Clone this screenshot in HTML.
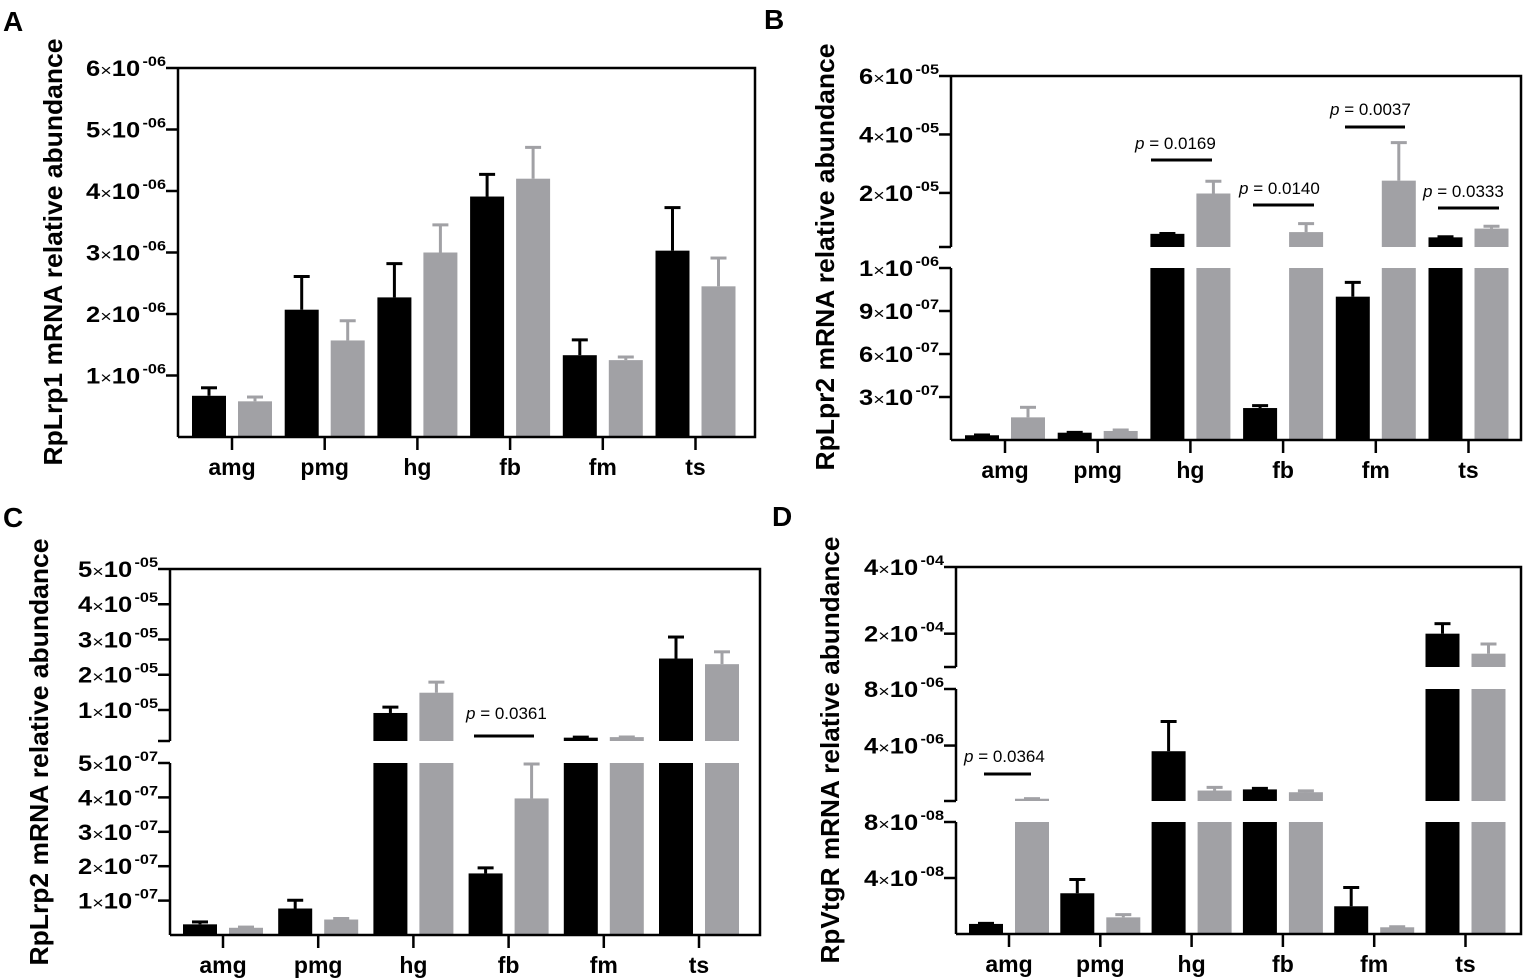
<!DOCTYPE html>
<html><head><meta charset="utf-8"><style>
html,body{margin:0;padding:0;background:#fff;}
svg{display:block;font-family:"Liberation Sans",Arial,sans-serif;}
</style></head><body>
<svg id="fig" width="1524" height="978" viewBox="0 0 1524 978" xmlns="http://www.w3.org/2000/svg"></svg>
<script>
const cats=['amg','pmg','hg','fb','fm','ts'];
// Panel A
const aBlack=[0.67e-6,2.07e-6,2.27e-6,3.91e-6,1.33e-6,3.03e-6];
const aBlackErr=[0.80e-6,2.61e-6,2.82e-6,4.27e-6,1.58e-6,3.73e-6];
const aGray=[0.58e-6,1.57e-6,3.0e-6,4.20e-6,1.25e-6,2.45e-6];
const aGrayErr=[0.65e-6,1.89e-6,3.45e-6,4.71e-6,1.30e-6,2.91e-6];
const aTicks=[1e-6,2e-6,3e-6,4e-6,5e-6,6e-6];
const aTickMant=['1','2','3','4','5','6'];
const aTickExp=['-06','-06','-06','-06','-06','-06'];
// Panel B
const bBlack=[3.3e-8,5.1e-8,6.0e-6,2.23e-7,1.0e-6,4.8e-6];
const bBlackErr=[3.5e-8,5.3e-8,6.1e-6,2.4e-7,1.1e-6,5.0e-6];
const bGray=[1.58e-7,6.3e-8,1.98e-5,6.6e-6,2.42e-5,7.8e-6];
const bGrayErr=[2.28e-7,7.0e-8,2.40e-5,9.5e-6,3.72e-5,8.6e-6];
const bTicks=[3e-7,6e-7,9e-7,1.2e-6,2e-5,4e-5,6e-5];
const bTickMant=['3','6','9','1','2','4','6'];
const bTickExp=['-07','-07','-07','-06','-05','-05','-05'];
// Panel C
const cBlack=[3.1e-8,7.7e-8,9.15e-6,1.79e-7,2.15e-6,2.46e-5];
const cBlackErr=[3.8e-8,1.01e-7,1.08e-5,1.95e-7,2.3e-6,3.07e-5];
const cGray=[2.1e-8,4.5e-8,1.49e-5,3.97e-7,2.3e-6,2.30e-5];
const cGrayErr=[2.3e-8,4.8e-8,1.79e-5,4.97e-7,2.35e-6,2.65e-5];
const cTicks=[1e-7,2e-7,3e-7,4e-7,5e-7,1e-5,2e-5,3e-5,4e-5,5e-5];
const cTickMant=['1','2','3','4','5','1','2','3','4','5'];
const cTickExp=['-07','-07','-07','-07','-07','-05','-05','-05','-05','-05'];
// Panel D
const dBlack=[7.2e-9,2.91e-8,3.6e-6,9.0e-7,1.98e-8,2.0e-4];
const dBlackErr=[7.6e-9,3.89e-8,5.7e-6,9.7e-7,3.32e-8,2.3e-4];
const dGray=[2.4e-7,1.19e-8,8.2e-7,7.0e-7,4.8e-9,1.40e-4];
const dGrayErr=[2.45e-7,1.38e-8,1.04e-6,8.0e-7,5.2e-9,1.69e-4];
const dTicks=[4e-8,8e-8,4e-6,8e-6,2e-4,4e-4];
const dTickMant=['4','8','4','8','2','4'];
const dTickExp=['-08','-08','-06','-06','-04','-04'];

const NS='http://www.w3.org/2000/svg';
const svg=document.getElementById('fig');
const GRAY='#a1a1a5';
function mk(tag,attrs,parent){const e=document.createElementNS(NS,tag);for(const k in attrs)e.setAttribute(k,attrs[k]);(parent||svg).appendChild(e);return e;}

const panels=[
 {id:'a',letter:'A',lx:3,ly:31,left:178,right:755,top:68,bottom:437,x0:232,step:92.7,
  segs:[{lo:0,hi:6e-6,yb:437,yt:68}],ticks:aTicks,mant:aTickMant,exp:aTickExp,
  black:aBlack,blackErr:aBlackErr,gray:aGray,grayErr:aGrayErr,
  ylabel:'RpLrp1 mRNA relative abundance',ylx:62,yly:252,pv:[]},
 {id:'b',letter:'B',lx:764,ly:29,left:951,right:1521,top:76,bottom:440,x0:1005,step:92.7,
  segs:[{lo:0,hi:1.2e-6,yb:440,yt:268},{lo:1.5e-6,hi:6e-5,yb:247,yt:76}],ticks:bTicks,mant:bTickMant,exp:bTickExp,
  black:bBlack,blackErr:bBlackErr,gray:bGray,grayErr:bGrayErr,
  ylabel:'RpLpr2 mRNA relative abundance',ylx:834,yly:257,
  pv:[{t:'0.0169',tx:1135,ty:149,x1:1151,x2:1212,y:160},{t:'0.0140',tx:1239,ty:194,x1:1253,x2:1314,y:205},
      {t:'0.0037',tx:1330,ty:115,x1:1345,x2:1405,y:127},{t:'0.0333',tx:1423,ty:197,x1:1438,x2:1499,y:208}]},
 {id:'c',letter:'C',lx:3,ly:527,left:170,right:760,top:569,bottom:935,x0:223,step:95.2,
  segs:[{lo:0,hi:5e-7,yb:935,yt:763},{lo:1.2e-6,hi:5e-5,yb:741,yt:569}],ticks:cTicks,mant:cTickMant,exp:cTickExp,
  black:cBlack,blackErr:cBlackErr,gray:cGray,grayErr:cGrayErr,
  ylabel:'RpLrp2 mRNA relative abundance',ylx:48,yly:752,
  pv:[{t:'0.0361',tx:466,ty:719,x1:474,x2:534,y:736}]},
 {id:'d',letter:'D',lx:772,ly:526,left:956,right:1521,top:567,bottom:934,x0:1009,step:91.3,
  segs:[{lo:0,hi:8e-8,yb:934,yt:822},{lo:8e-8,hi:8e-6,yb:801,yt:689},{lo:1e-4,hi:4e-4,yb:667,yt:567}],
  ticks:dTicks,mant:dTickMant,exp:dTickExp,
  black:dBlack,blackErr:dBlackErr,gray:dGray,grayErr:dGrayErr,
  ylabel:'RpVtgR mRNA relative abundance',ylx:839,yly:750,
  pv:[{t:'0.0364',tx:964,ty:762,x1:984,x2:1031,y:774}]}
];

function yOf(s,v){return s.yb-(v-s.lo)/(s.hi-s.lo)*(s.yb-s.yt);}
function segFor(p,v){for(const s of p.segs){if(v>=s.lo-1e-20&&v<=s.hi*1.0000001)return s;}return null;}

function drawBar(g,p,xl,v,e,color,name){
  for(const s of p.segs){
    if(v>s.lo){
      const top=yOf(s,Math.min(v,s.hi));
      const r=mk('rect',{x:xl,y:top,width:34,height:Math.max(0,s.yb-top),fill:color},g);
      
      
    }
    const a=Math.max(v,s.lo),b=Math.min(e,s.hi);
    if(b>a){
      const ln=mk('line',{x1:xl+17,x2:xl+17,y1:yOf(s,a),y2:yOf(s,b),stroke:color,'stroke-width':3},g);
      
      
      if(e<=s.hi&&e>=s.lo){
        const cp=mk('line',{x1:xl+9,x2:xl+25,y1:yOf(s,e),y2:yOf(s,e),stroke:color,'stroke-width':3},g);
        
        
      }
    }
  }
}

for(const p of panels){
  const g=mk('g',{});
  
  
  const L=mk('text',{x:p.lx,y:p.ly,'font-size':28,'font-weight':'bold',fill:'#000'},g);
  L.textContent=p.letter;
  
  
  cats.forEach((c,i)=>{
    const t=p.x0+i*p.step;
    drawBar(g,p,t-40,p.black[i],p.blackErr[i],'#000','bar-black-'+c);
    drawBar(g,p,t+6,p.gray[i],p.grayErr[i],GRAY,'bar-gray-'+c);
    const tk=mk('line',{x1:t,x2:t,y1:p.bottom,y2:p.bottom+13,stroke:'#000','stroke-width':2.5},g);
    
    
    const tl=mk('text',{x:t,y:p.bottom+38,'text-anchor':'middle','font-size':23,'font-weight':'bold',fill:'#000'},g);
    tl.textContent=c;
    
    
  });
  const fr=mk('path',{d:`M${p.left},${p.top}H${p.right}V${p.bottom}H${p.left}`,fill:'none',stroke:'#000','stroke-width':2.5},g);
  
  
  p.segs.forEach((s,k)=>{
    const ax=mk('line',{x1:p.left,x2:p.left,y1:s.yt,y2:s.yb,stroke:'#000','stroke-width':2.5},g);
    
    
    if(k>0){
      const et=mk('line',{x1:p.left-12,x2:p.left,y1:s.yb,y2:s.yb,stroke:'#000','stroke-width':2.5},g);
      
      
    }
  });
  p.ticks.forEach((v,i)=>{
    const s=segFor(p,v);if(!s)return;
    const y=yOf(s,v);
    const tk=mk('line',{x1:p.left-12,x2:p.left,y1:y,y2:y,stroke:'#000','stroke-width':2.5},g);
    
    
    const tx=mk('text',{x:p.left-92,y:y+8,'font-size':22,'font-weight':'bold',fill:'#000',textLength:80,lengthAdjust:'spacingAndGlyphs'},g);
    
    
    const t1=mk('tspan',{},tx);t1.textContent=p.mant[i];
    const t2=mk('tspan',{'font-weight':'normal','font-size':17},tx);t2.textContent='\u00d7';
    const t3=mk('tspan',{},tx);t3.textContent='10';
    const t4=mk('tspan',{'font-size':14,dy:-10,dx:2},tx);t4.textContent=p.exp[i];
  });
  const yl=mk('text',{x:0,y:0,transform:`translate(${p.ylx},${p.yly}) rotate(-90)`,'text-anchor':'middle','font-size':26,'font-weight':'bold',fill:'#000',textLength:427,lengthAdjust:'spacingAndGlyphs'},g);
  yl.textContent=p.ylabel;
  
  
  p.pv.forEach(a=>{
    const t=mk('text',{x:a.tx,y:a.ty,'font-size':17,fill:'#000'},g);
    
    
    const i1=mk('tspan',{'font-style':'italic'},t);i1.textContent='p';
    const i2=mk('tspan',{},t);i2.textContent=' = '+a.t;
    const ln=mk('line',{x1:a.x1,x2:a.x2,y1:a.y,y2:a.y,stroke:'#000','stroke-width':3},g);
    
    
  });
}
</script>
</body></html>
